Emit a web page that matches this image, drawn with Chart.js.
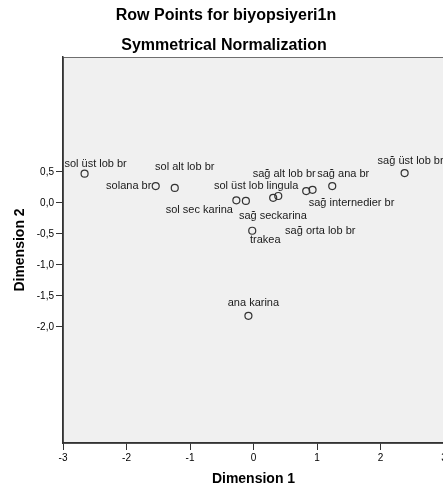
<!DOCTYPE html>
<html>
<head>
<meta charset="utf-8">
<script src="https://cdn.jsdelivr.net/npm/chart.js@4.4.1/dist/chart.umd.min.js"></script>
<style>
  html, body { margin: 0; padding: 0; background: #fff; overflow: hidden; }
  #wrap { width: 450px; height: 492px; }
</style>
</head>
<body>
<div id="wrap"><canvas id="chart"></canvas></div>
<script>
/* Row points, symmetrical normalization */
const pointLabels = ['sol üst lob br', 'solana br', 'sol alt lob br', 'sol sec karina', 'sağ seckarina',
  'sol üst lob lingula', 'sağ orta lob br', 'sağ alt lob br', 'sağ internedier br', 'sağ ana br',
  'sağ üst lob br', 'trakea', 'ana karina'];
const dim1 = [-2.66, -1.54, -1.24, -0.27, -0.12, 0.31, 0.39, 0.83, 0.93, 1.24, 2.38, -0.02, -0.08];
const dim2 = [0.47, 0.27, 0.24, 0.04, 0.03, 0.08, 0.11, 0.19, 0.21, 0.27, 0.48, -0.45, -1.82];
const xTicks = [-3, -2, -1, 0, 1, 2, 3];
const yTicks = [0.5, 0, -0.5, -1, -1.5, -2];

// label offsets from point (px), like SPSS label placement
const labelOffsets = [[11, -10], [-27, 0], [10, -21], [-37, 10], [27, 15], [-17, -12], [42, 35],
  [-22, -17], [39, 13], [11, -12], [6, -12], [13, 9], [5, -13]];

const fmt = v => (v === 0 ? '0,0' : v.toFixed(1).replace('.', ','));

const boxPlugin = {
  id: 'box',
  beforeDraw(chart) {
    const { ctx, chartArea: a } = chart;
    ctx.save();
    ctx.fillStyle = '#f0f0f0';
    ctx.fillRect(a.left, a.top, a.right - a.left, a.bottom - a.top);
    ctx.strokeStyle = '#6e6e6e';
    ctx.lineWidth = 1;
    ctx.strokeRect(a.left + 0.5, a.top + 0.5, a.right - a.left, a.bottom - a.top);
    ctx.restore();
  },
  afterDraw(chart) {
    const { ctx } = chart;
    ctx.save();
    ctx.fillStyle = '#000';
    ctx.textAlign = 'center';
    ctx.textBaseline = 'middle';
    ctx.font = 'bold 16px "Liberation Sans", Arial, sans-serif';
    ctx.fillText('Row Points for biyopsiyeri1n', 226, 16);
    ctx.fillText('Symmetrical Normalization', 224, 46);

    // point labels
    const meta = chart.getDatasetMeta(0);
    ctx.font = '11px "Liberation Sans", Arial, sans-serif';
    ctx.fillStyle = '#1a1a1a';
    meta.data.forEach((pt, i) => {
      const [dx, dy] = labelOffsets[i];
      ctx.fillText(pointLabels[i], pt.x + dx, pt.y + dy);
    });
    ctx.restore();
  }
};

new Chart(document.getElementById('chart'), {
  type: 'scatter',
  data: {
    datasets: [{
      data: dim1.map((x, i) => ({ x: x, y: dim2[i] })),
      pointRadius: 3.5,
      pointBackgroundColor: 'rgba(0,0,0,0)',
      pointBorderColor: '#333',
      pointBorderWidth: 1.2
    }]
  },
  options: {
    responsive: true,
    maintainAspectRatio: false,
    animation: false,
    layout: { padding: { top: 57, right: 6, left: 0, bottom: 0 } },
    plugins: { legend: { display: false }, tooltip: { enabled: false } },
    scales: {
      x: {
        type: 'linear', min: -3, max: 3,
        afterBuildTicks: s => { s.ticks = xTicks.map(v => ({ value: v })); },
        afterFit: s => { s.height = 49; },
        grid: { drawOnChartArea: false, tickLength: 7, color: '#333' },
        border: { color: '#333', width: 1.5 },
        ticks: { color: '#000', font: { size: 10, family: '"Liberation Sans", Arial' }, padding: 2, maxRotation: 0 },
        title: { display: true, text: 'Dimension 1', color: '#000', font: { size: 14, weight: 'bold', family: '"Liberation Sans", Arial' }, padding: { top: 6 } }
      },
      y: {
        type: 'linear', min: -3.87, max: 2.35,
        afterBuildTicks: s => { s.ticks = yTicks.map(v => ({ value: v })); },
        afterFit: s => { s.width = 63; },
        grid: { drawOnChartArea: false, tickLength: 7, color: '#333' },
        border: { color: '#333', width: 1.5 },
        ticks: { color: '#000', font: { size: 10, family: '"Liberation Sans", Arial' }, padding: 2, callback: v => fmt(v) },
        title: { display: true, text: 'Dimension 2', color: '#000', font: { size: 14, weight: 'bold', family: '"Liberation Sans", Arial' }, padding: { top: 12 } }
      }
    }
  },
  plugins: [boxPlugin]
});
</script>
</body>
</html>
